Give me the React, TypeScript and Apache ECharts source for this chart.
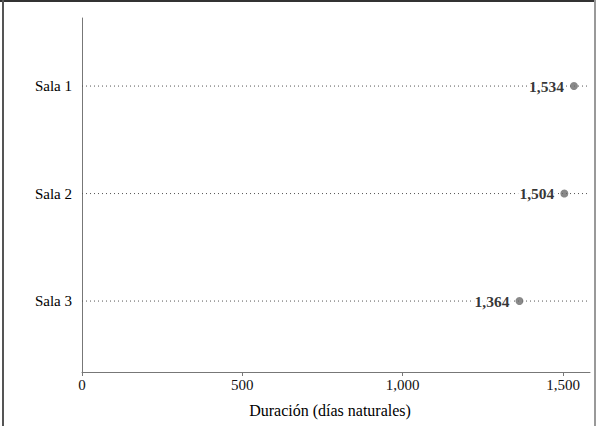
import React, { useEffect, useRef } from "react";
import * as echarts from "echarts";

const categories = ["Sala 1", "Sala 2", "Sala 3"];
const durations = [1534, 1504, 1364];
const xTicks = [0, 500, 1000, 1500];
const xMax = 1584;
const xName = "Duración (días naturales)";

const fmt = (v: number) => v.toLocaleString("en-US");

export default function App() {
  const ref = useRef<HTMLDivElement>(null);
  useEffect(() => {
    document.body.style.margin = "0";
    const chart = echarts.init(ref.current!, undefined, { renderer: "svg" });
    const rowPos = categories.map((_, i) => i + 1);
    const font = "'Liberation Serif', 'Times New Roman', serif";
    chart.setOption({
      animation: false,
      backgroundColor: "#fff",
      textStyle: { fontFamily: font },
      grid: { left: 82, right: 9, top: 18, bottom: 54 },
      xAxis: {
        type: "value",
        min: 0,
        max: xMax,
        name: xName,
        nameLocation: "middle",
        nameGap: 30,
        nameTextStyle: { fontFamily: font, fontSize: 16, color: "#000", padding: [0, 12, 0, 0] },
        axisLine: { show: true, onZero: false, lineStyle: { color: "#777", width: 1 } },
        axisTick: { show: true, customValues: xTicks, length: 4, inside: false, lineStyle: { color: "#777" } },
        axisLabel: { customValues: xTicks, formatter: (v: number) => fmt(v), fontFamily: font, fontSize: 15, color: "#111", margin: 5 },
        splitLine: { show: false },
      },
      yAxis: {
        type: "value",
        min: 0.367,
        max: 3.66,
        inverse: true,
        axisLine: { show: true, lineStyle: { color: "#777", width: 1 } },
        axisTick: { show: false, customValues: rowPos },
        axisLabel: {
          customValues: rowPos,
          formatter: (v: number) => categories[Math.round(v) - 1] ?? "",
          fontFamily: font,
          fontSize: 15,
          color: "#000",
          margin: 10,
        },
        splitLine: { show: false },
      },
      series: [
        ...categories.map((c, i) => ({
          type: "line",
          name: c + " line",
          data: [[0, i + 1], [xMax, i + 1]],
          symbol: "none",
          silent: true,
          lineStyle: { color: "#555", width: 1, type: [1, 3] },
          z: 1,
        })),
        {
          type: "scatter",
          data: durations.map((d, i) => [d, i + 1]),
          symbolSize: 8,
          itemStyle: { color: "#6b6b6b" },
          z: 3,
          label: {
            show: true,
            position: "left",
            distance: 4,
            formatter: (p: any) => fmt(p.value[0]),
            fontFamily: font,
            fontWeight: "bold",
            fontSize: 15.5,
            color: "#000",
            backgroundColor: "#fff",
            padding: [1, 2],
          },
        },
      ],
      graphic: [
        { type: "rect", shape: { x: 0, y: 0, width: 596, height: 2 }, style: { fill: "#333" } },
        { type: "rect", shape: { x: 2, y: 0, width: 2, height: 426 }, style: { fill: "#555" } },
        { type: "rect", shape: { x: 594, y: 0, width: 2, height: 426 }, style: { fill: "#999" } },
      ],
    });
    return () => chart.dispose();
  }, []);
  return <div ref={ref} style={{ width: 599, height: 426 }} />;
}
